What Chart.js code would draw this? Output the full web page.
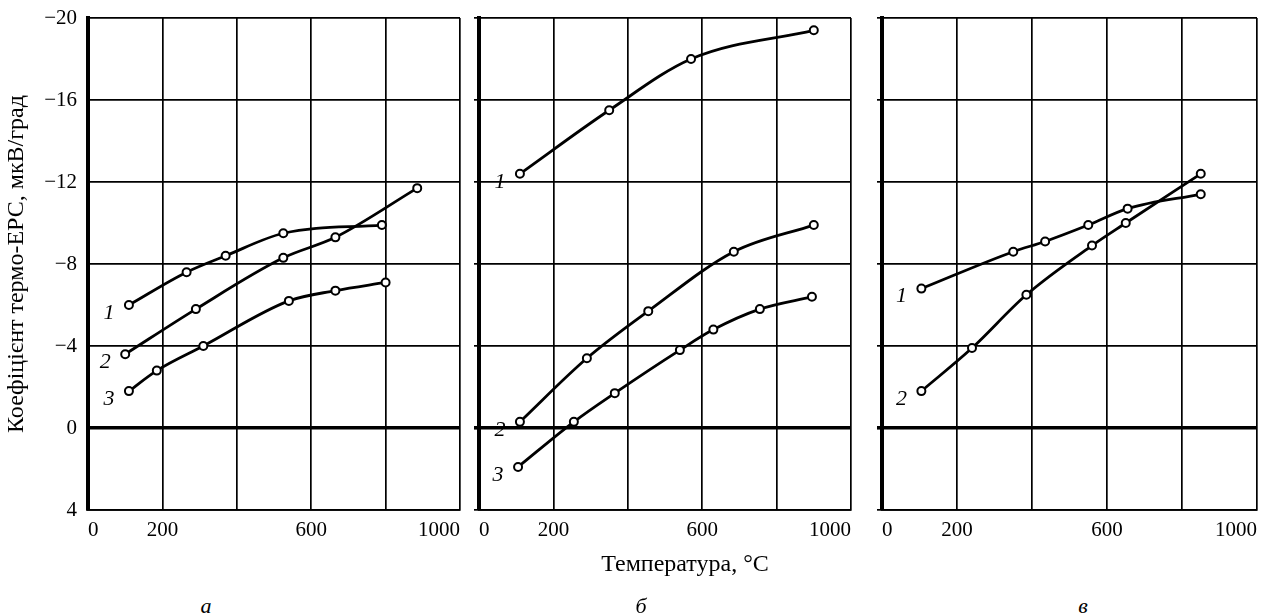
<!DOCTYPE html>
<html><head><meta charset="utf-8">
<script src="https://cdn.jsdelivr.net/npm/chart.js@4.4.0/dist/chart.umd.min.js"></script>
<style>
html,body{margin:0;padding:0;background:#fff;}
#wrap{position:relative;width:1268px;height:615px;overflow:hidden;}
canvas{position:absolute;top:0;}
.lbl{position:absolute;font-family:"Liberation Serif",serif;font-size:24px;line-height:1;color:#000;white-space:nowrap;transform:translate(-50%,-50%);}
.it{font-style:italic;font-size:22px;}
</style></head><body>
<div id="wrap">
<canvas id="ca" width="470" height="560" style="left:0;width:470px;height:560px"></canvas>
<canvas id="cb" width="390" height="560" style="left:470px;width:390px;height:560px"></canvas>
<canvas id="cc" width="408" height="560" style="left:860px;width:408px;height:560px"></canvas>
<div class="lbl" style="left:685px;top:563px">Температура, °C</div>
<div class="lbl it" style="left:206px;top:606px">а</div>
<div class="lbl it" style="left:641px;top:606px">б</div>
<div class="lbl it" style="left:1083px;top:606px">в</div>
</div>
<script>
// ---- tick values / labels ----
const xTickValues = [0, 200, 400, 600, 800, 1000];
const xTickLabels = ['0', '200', '', '600', '', '1000'];
const yTickValues = [-20, -16, -12, -8, -4, 0, 4];
const yTickLabels = ['−20', '−16', '−12', '−8', '−4', '0', '4'];
const yAxisTitle = 'Коефіцієнт термо-ЕРС, мкВ/град';

// ---- panel а ----
const a1T = [110, 265, 370, 525, 790];
const a1V = [-6.0, -7.6, -8.4, -9.5, -9.9];
const a2T = [100, 290, 525, 665, 885];
const a2V = [-3.6, -5.8, -8.3, -9.3, -11.7];
const a3T = [110, 185, 310, 540, 665, 800];
const a3V = [-1.8, -2.8, -4.0, -6.2, -6.7, -7.1];
// ---- panel б ----
const b1T = [110, 350, 570, 900];
const b1V = [-12.4, -15.5, -18.0, -19.4];
const b2T = [110, 290, 455, 685, 900];
const b2V = [-0.3, -3.4, -5.7, -8.6, -9.9];
const b3T = [105, 255, 365, 540, 630, 755, 895];
const b3V = [1.9, -0.3, -1.7, -3.8, -4.8, -5.8, -6.4];
// ---- panel в ----
const c1T = [105, 350, 435, 550, 655, 850];
const c1V = [-6.8, -8.6, -9.1, -9.9, -10.7, -11.4];
const c2T = [105, 240, 385, 560, 650, 850];
const c2V = [-1.8, -3.9, -6.5, -8.9, -10.0, -12.4];

const FONT = '"Liberation Serif", "Times New Roman", serif';

function pts(T, V) { return T.map((t, i) => ({x: t, y: V[i]})); }
function ds(label, T, V) {
  return {
    label: label, data: pts(T, V),
    borderColor: '#000', borderWidth: 2.8,
    pointRadius: 4, pointBorderWidth: 2,
    pointBackgroundColor: '#fff', pointBorderColor: '#000',
    cubicInterpolationMode: 'monotone', fill: false
  };
}

const seriesLabelPlugin = {
  id: 'seriesLabels',
  afterDatasetsDraw(chart) {
    const ctx = chart.ctx;
    ctx.save();
    ctx.font = 'italic 22px ' + FONT;
    ctx.fillStyle = '#000';
    ctx.textAlign = 'center';
    ctx.textBaseline = 'middle';
    chart.data.datasets.forEach((d, i) => {
      const p = chart.getDatasetMeta(i).data[0];
      ctx.fillText(d.label, p.x - 20, p.y + 8);
    });
    ctx.restore();
  }
};

function makeChart(id, datasets, withY, yWidth, padRight) {
  return new Chart(document.getElementById(id), {
    type: 'line',
    data: {datasets: datasets},
    plugins: [seriesLabelPlugin],
    options: {
      responsive: false, animation: false, devicePixelRatio: 1,
      layout: {padding: {top: 18, right: padRight, bottom: 0, left: 0}},
      plugins: {legend: {display: false}, tooltip: {enabled: false}},
      scales: {
        x: {
          type: 'linear', min: 0, max: 1000,
          afterBuildTicks: s => { s.ticks = xTickValues.map(v => ({value: v})); },
          afterFit: s => { s.height = 50; s.paddingLeft = 0; s.paddingRight = 0; },
          ticks: {
            autoSkip: false, maxRotation: 0, align: 'inner', padding: 8,
            color: '#000', font: {family: FONT, size: 21},
            callback: v => xTickLabels[xTickValues.indexOf(v)]
          },
          grid: {color: '#000', lineWidth: 1.7, drawTicks: false},
          border: {display: true, color: '#000', width: 1.7}
        },
        y: {
          type: 'linear', reverse: true, min: -20, max: 4,
          afterBuildTicks: s => { s.ticks = yTickValues.map(v => ({value: v})); },
          afterFit: s => { s.width = yWidth; s.paddingTop = 0; s.paddingBottom = 0; },
          ticks: {
            display: withY, padding: 11, color: '#000',
            font: {family: FONT, size: 21},
            callback: v => yTickLabels[yTickValues.indexOf(v)]
          },
          title: {
            display: withY, text: yAxisTitle, color: '#000',
            font: {family: FONT, size: 24}, padding: {top: 2, bottom: 0}
          },
          grid: {
            color: '#000', drawTicks: !withY, tickLength: 5,
            lineWidth: c => (c.tick && c.tick.value === 0) ? 3.6 : 1.7
          },
          border: {display: true, color: '#000', width: 4}
        }
      }
    }
  });
}

makeChart('ca', [ds('1', a1T, a1V), ds('2', a2T, a2V), ds('3', a3T, a3V)], true, 88, 10);
makeChart('cb', [ds('1', b1T, b1V), ds('2', b2T, b2V), ds('3', b3T, b3V)], false, 9, 9);
makeChart('cc', [ds('1', c1T, c1V), ds('2', c2T, c2V)], false, 22, 11);
</script>
</body></html>
